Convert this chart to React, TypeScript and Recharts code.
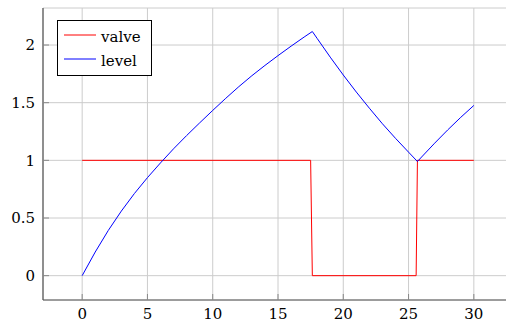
import { LineChart, Line, XAxis, YAxis, CartesianGrid, Customized } from "recharts";

// readings (time in s)
const valveTime = [0, 17.5, 17.63, 25.58, 25.68, 30];
const valveValue = [1, 1, 0, 0, 1, 1];

const levelTime = [
  0, 1, 2, 3, 4, 5, 6, 7, 8, 9, 10, 11, 12, 13, 14, 15, 16, 17, 17.63,
  18, 19, 20, 21, 22, 23, 24, 25, 25.68, 26, 27, 28, 29, 30,
];
const levelValue = [
  0, 0.205, 0.392, 0.56, 0.712, 0.85, 0.978, 1.1, 1.215, 1.325, 1.433, 1.538, 1.639, 1.734, 1.823, 1.908,
  1.99, 2.069, 2.117, 2.057, 1.895, 1.74, 1.592, 1.452, 1.317, 1.191, 1.071, 0.99, 1.029, 1.149, 1.264,
  1.373, 1.476,
];

const xTicks = [0, 5, 10, 15, 20, 25, 30];
const yTicks = [0, 0.5, 1, 1.5, 2];
const yLabels = ["0", "0.5", "1", "1.5", "2"];

const valveData = valveTime.map((t, i) => ({ t, v: valveValue[i] }));
const levelData = levelTime.map((t, i) => ({ t, v: levelValue[i] }));

const X_DOMAIN: [number, number] = [-3, 33];
const Y_DOMAIN: [number, number] = [-0.211, 2.321];

const font = "DejaVu Serif";
const tickStyle = { fontSize: 15, fill: "#000", fontFamily: font };
const frame = { stroke: "#555", strokeWidth: 1.2 };
const stub = { stroke: "#888", strokeWidth: 1 };

const legendItems = [
  { name: "valve", color: "#ff0000" },
  { name: "level", color: "#0000ff" },
];

// pgfplots-style legend box in the upper left
function LegendBox() {
  return (
    <g>
      <rect x={57.5} y={20.5} width={94} height={55} fill="#fff" stroke="#000" strokeWidth={1} />
      {legendItems.map((it, i) => (
        <g key={it.name}>
          <line x1={64} x2={96} y1={35 + i * 24} y2={35 + i * 24} stroke={it.color} strokeWidth={1} />
          <text x={101} y={36.5 + i * 24} dy="0.35em" fontSize={15} fontFamily={font} fill="#000">
            {it.name}
          </text>
        </g>
      ))}
    </g>
  );
}

export default function App() {
  return (
    <div
      style={{
        position: "absolute",
        left: 0,
        top: 0,
        width: 506,
        height: 325,
        overflow: "hidden",
        background: "#fff",
      }}
    >
      <LineChart width={520} height={325} margin={{ top: 8, right: 7, bottom: 0, left: 0 }}>
        <CartesianGrid stroke="#cccccc" strokeWidth={1} />
        <XAxis
          type="number"
          dataKey="t"
          domain={X_DOMAIN}
          ticks={xTicks}
          allowDataOverflow
          height={25}
          tick={tickStyle}
          tickSize={-6}
          tickMargin={14}
          tickLine={stub}
          axisLine={frame}
        />
        <XAxis
          xAxisId="top"
          orientation="top"
          type="number"
          dataKey="t"
          domain={X_DOMAIN}
          ticks={xTicks}
          allowDataOverflow
          height={0}
          tick={false}
          tickSize={-6}
          tickLine={stub}
          axisLine={frame}
        />
        <YAxis
          type="number"
          domain={Y_DOMAIN}
          ticks={yTicks}
          allowDataOverflow
          width={43}
          tick={tickStyle}
          tickFormatter={(v: number) => yLabels[yTicks.indexOf(v)] ?? String(v)}
          tickSize={-6}
          tickMargin={14}
          tickLine={stub}
          axisLine={frame}
        />
        <Line
          data={valveData}
          dataKey="v"
          type="linear"
          stroke="#ff0000"
          strokeWidth={1}
          dot={false}
          isAnimationActive={false}
        />
        <Line
          data={levelData}
          dataKey="v"
          type="linear"
          stroke="#0000ff"
          strokeWidth={1}
          dot={false}
          isAnimationActive={false}
        />
        <Customized component={LegendBox} />
      </LineChart>
    </div>
  );
}
